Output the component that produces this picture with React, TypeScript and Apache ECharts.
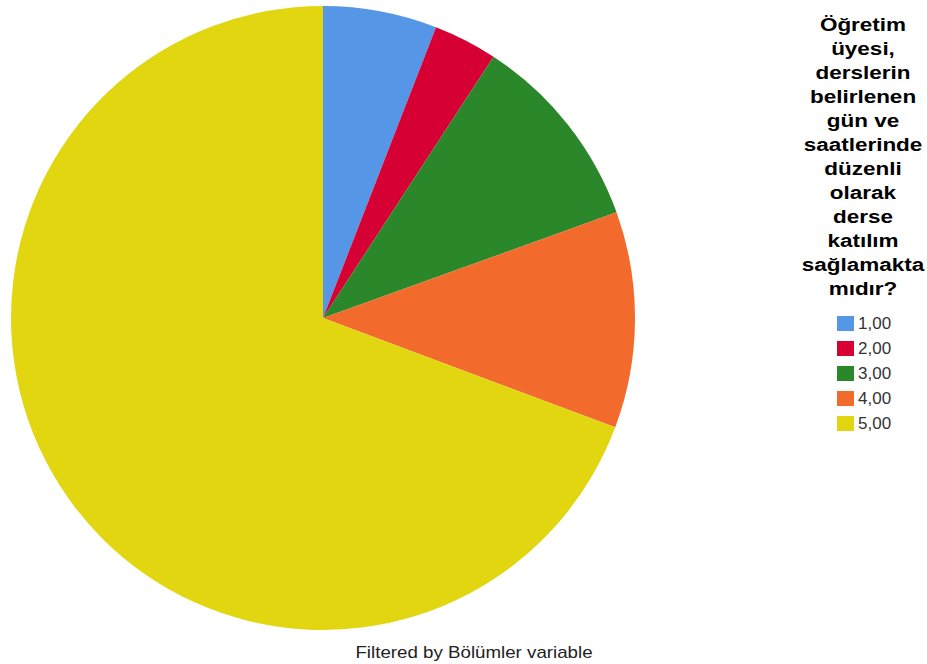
import React, { useEffect, useRef } from "react";
import * as echarts from "echarts";

const categories = ["1,00", "2,00", "3,00", "4,00", "5,00"];
const values = [5.9, 3.3, 10.3, 11.2, 69.3];
const colors = ["#5596e6", "#d70034", "#2a882a", "#f26a2c", "#e2d611"];
const titleLines = [
  "Öğretim",
  "üyesi,",
  "derslerin",
  "belirlenen",
  "gün ve",
  "saatlerinde",
  "düzenli",
  "olarak",
  "derse",
  "katılım",
  "sağlamakta",
  "mıdır?",
];
const footnote = "Filtered by Bölümler variable";

export default function App() {
  const ref = useRef<HTMLDivElement>(null);
  useEffect(() => {
    if (!ref.current) return;
    const chart = echarts.init(ref.current, null, { renderer: "svg" });
    const font = "Liberation Sans, Arial, sans-serif";
    chart.setOption({
      animation: false,
      backgroundColor: "#ffffff",
      graphic: [
        ...titleLines.map((line, i) => ({
          type: "text",
          x: 863,
          y: 25 + 24 * i,
          scaleX: 1.25,
          silent: true,
          style: {
            text: line,
            fill: "#000000",
            font: `bold 18px ${font}`,
            align: "center",
            verticalAlign: "middle",
          },
        })),
        {
          type: "text",
          x: 474,
          y: 652,
          scaleX: 1.17,
          silent: true,
          style: {
            text: footnote,
            fill: "#222222",
            font: `16px ${font}`,
            align: "center",
            verticalAlign: "middle",
          },
        },
      ],
      legend: {
        orient: "vertical",
        left: 832,
        top: 310,
        itemWidth: 17,
        itemHeight: 15,
        itemGap: 8,
        icon: "rect",
        data: categories,
        selectedMode: false,
        textStyle: {
          fontFamily: font,
          fontSize: 17,
          color: "#333333",
          padding: [0, 0, 0, -1],
        },
      },
      series: [
        {
          type: "pie",
          center: [323, 318],
          radius: 312,
          startAngle: 90,
          clockwise: true,
          label: { show: false },
          labelLine: { show: false },
          emphasis: { disabled: true },
          itemStyle: { borderWidth: 0 },
          data: categories.map((c, i) => ({
            name: c,
            value: values[i],
            itemStyle: { color: colors[i] },
          })),
        },
      ],
    });
    return () => chart.dispose();
  }, []);
  return (
    <div
      ref={ref}
      style={{ position: "fixed", left: 0, top: 0, width: 927, height: 664 }}
    />
  );
}
